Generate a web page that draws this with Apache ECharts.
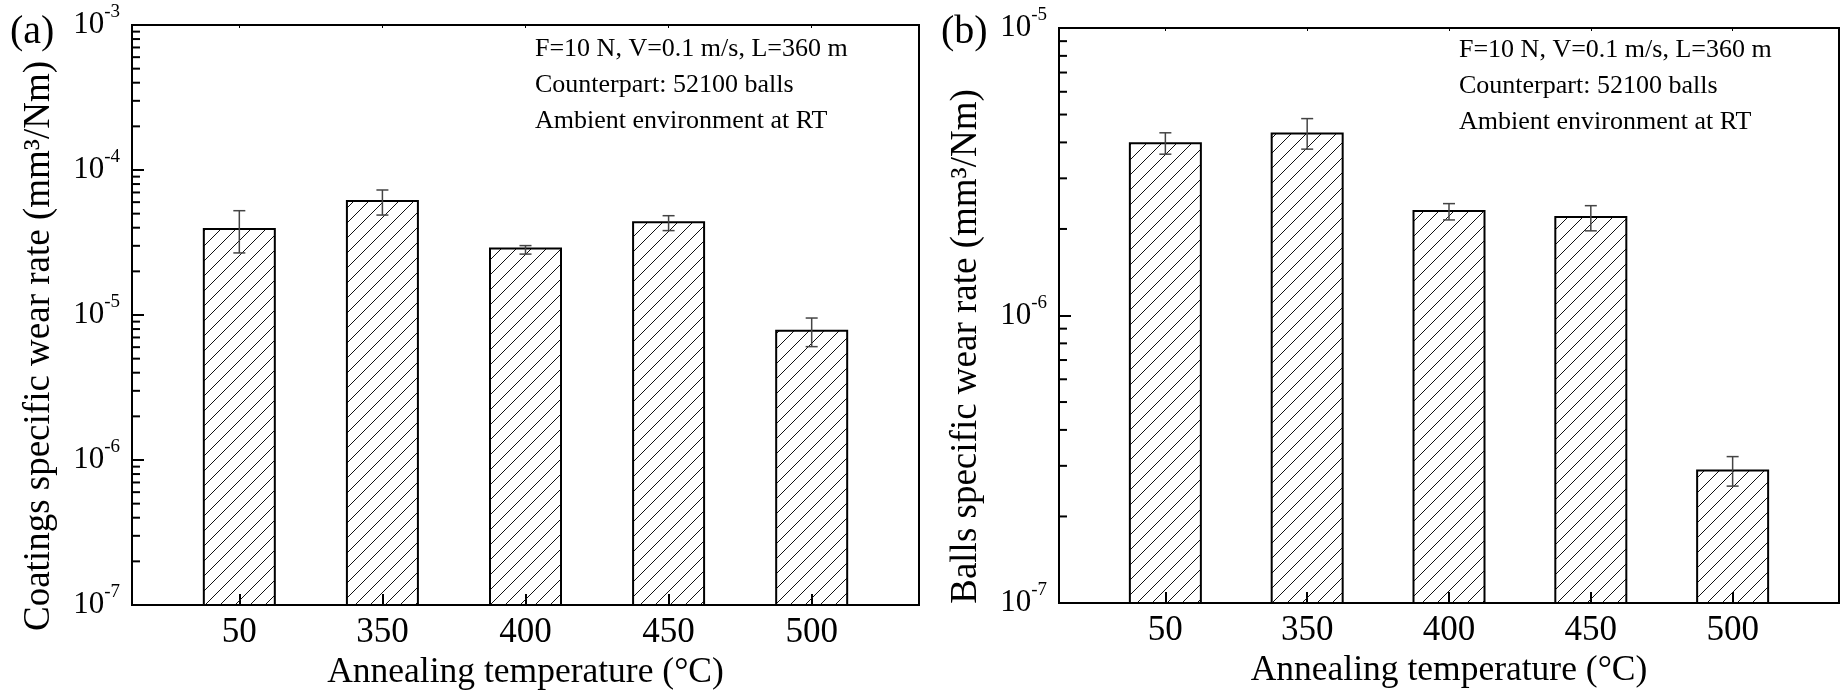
<!DOCTYPE html>
<html>
<head>
<meta charset="utf-8">
<script src="https://cdn.jsdelivr.net/npm/echarts@6/dist/echarts.min.js"></script>
<style>
  html, body { margin: 0; padding: 0; background: #fff; }
  #chart { width: 1841px; height: 690px; }
</style>
</head>
<body>
<div id="chart"></div>
<script>
// annealing temperatures (categories)
var temps = ['50', '350', '400', '450', '500'];

// (a) coatings specific wear rate, mm3/Nm
var coatRate = [3.92e-5, 6.11e-5, 2.88e-5, 4.36e-5, 7.80e-6];
var coatHigh = [5.24e-5, 7.28e-5, 3.01e-5, 4.84e-5, 9.53e-6];
var coatLow  = [2.68e-5, 4.89e-5, 2.63e-5, 3.82e-5, 6.05e-6];

// (b) balls specific wear rate, mm3/Nm
var ballRate = [3.97e-6, 4.30e-6, 2.31e-6, 2.20e-6, 2.89e-7];
var ballHigh = [4.32e-6, 4.84e-6, 2.45e-6, 2.41e-6, 3.23e-7];
var ballLow  = [3.64e-6, 3.79e-6, 2.15e-6, 1.97e-6, 2.55e-7];

// y tick labels (decades)
var coatTicks = [1e-7, 1e-6, 1e-5, 1e-4, 1e-3];
var ballTicks = [1e-7, 1e-6, 1e-5];

var notes = ['F=10 N, V=0.1 m/s, L=360 m', 'Counterpart: 52100 balls', 'Ambient environment at RT'];

var FONT = '"Liberation Serif", "Times New Roman", serif';
var X_MIN = 0.25, X_MAX = 5.75;
var catPos = temps.map(function (t, i) { return i + 1; });

// minor ticks 2..9 inside each decade
function minorTicks(decades) {
  var out = [];
  for (var i = 0; i < decades.length - 1; i++) {
    for (var k = 2; k <= 9; k++) out.push(k * decades[i]);
  }
  return out;
}

// diagonal hatch like the origin fill
function makeHatch() {
  var s = 15;
  var c = document.createElement('canvas');
  c.width = s; c.height = s;
  var g = c.getContext('2d');
  g.strokeStyle = '#111';
  g.lineWidth = 1;
  g.beginPath();
  g.moveTo(0, s); g.lineTo(s, 0);
  g.moveTo(-2, 2); g.lineTo(2, -2);
  g.moveTo(s - 2, s + 2); g.lineTo(s + 2, s - 2);
  g.stroke();
  return c;
}
var hatch = makeHatch();

function powLabel(v) {
  var e = Math.round(Math.log10(v));
  return '{b|10}{s|' + e + '}';
}

function xAxes(gi) {
  return [{
    type: 'value', gridIndex: gi, min: X_MIN, max: X_MAX, position: 'bottom',
    name: 'Annealing temperature (\u00b0C)', nameLocation: 'middle', nameGap: 48,
    nameTextStyle: { fontFamily: FONT, fontSize: 35.5, color: '#000' },
    axisLine: { lineStyle: { color: '#000', width: 2 } },
    axisTick: { inside: true, length: 11, customValues: catPos, lineStyle: { color: '#000', width: 2 } },
    axisLabel: {
      customValues: catPos, margin: 10, fontFamily: FONT, fontSize: 35, color: '#000',
      formatter: function (v) { return temps[Math.round(v) - 1]; }
    },
    splitLine: { show: false }
  }, {
    type: 'value', gridIndex: gi, min: X_MIN, max: X_MAX, position: 'top',
    axisLine: { lineStyle: { color: '#000', width: 2 } },
    axisTick: { inside: true, length: 3, customValues: catPos, lineStyle: { color: '#000', width: 1 } },
    axisLabel: { show: false },
    splitLine: { show: false }
  }];
}

function yAxis(gi, min, max, ticks, name) {
  return {
    type: 'log', logBase: 10, gridIndex: gi, min: min, max: max, position: 'left',
    name: name, nameLocation: 'middle', nameGap: 74,
    nameTextStyle: { fontFamily: FONT, fontSize: 37, color: '#000', padding: [0, 62, 0, 0] },
    axisLine: { lineStyle: { color: '#000', width: 2 } },
    axisTick: { inside: true, length: 12, customValues: ticks, lineStyle: { color: '#000', width: 2 } },
    axisLabel: {
      customValues: ticks, margin: 12, formatter: powLabel,
      rich: {
        b: { fontFamily: FONT, fontSize: 31, color: '#000', lineHeight: 44 },
        s: { fontFamily: FONT, fontSize: 19, color: '#000', lineHeight: 20, verticalAlign: 'top' }
      }
    },
    splitLine: { show: false }
  };
}

function barSeries(xi, yi, vals, yMin) {
  return {
    type: 'custom', xAxisIndex: xi, yAxisIndex: yi,
    data: vals.map(function (v, i) { return [catPos[i], v]; }),
    renderItem: function (params, api) {
      var top = api.coord([api.value(0), api.value(1)]);
      var base = api.coord([api.value(0), yMin]);
      var w = 71;
      return {
        type: 'rect',
        shape: { x: top[0] - w / 2, y: top[1], width: w, height: base[1] - top[1] },
        style: { fill: { image: hatch, repeat: 'repeat' }, stroke: '#000', lineWidth: 2 }
      };
    },
    z: 3
  };
}

function errSeries(xi, yi, lo, hi) {
  return {
    type: 'custom', xAxisIndex: xi, yAxisIndex: yi,
    data: lo.map(function (v, i) { return [catPos[i], v, hi[i]]; }),
    renderItem: function (params, api) {
      var a = api.coord([api.value(0), api.value(1)]);
      var b = api.coord([api.value(0), api.value(2)]);
      var c = 6;
      var st = { stroke: '#444', lineWidth: 1.5 };
      return {
        type: 'group',
        children: [
          { type: 'line', shape: { x1: a[0], y1: a[1], x2: b[0], y2: b[1] }, style: st },
          { type: 'line', shape: { x1: a[0] - c, y1: a[1], x2: a[0] + c, y2: a[1] }, style: st },
          { type: 'line', shape: { x1: b[0] - c, y1: b[1], x2: b[0] + c, y2: b[1] }, style: st }
        ]
      };
    },
    z: 4
  };
}

// short inward minor ticks on the log axis
function minorSeries(xi, yi, ticks) {
  return {
    type: 'custom', xAxisIndex: xi, yAxisIndex: yi, clip: false,
    data: minorTicks(ticks).map(function (v) { return [X_MIN, v]; }),
    renderItem: function (params, api) {
      var p = api.coord([api.value(0), api.value(1)]);
      return {
        type: 'line',
        shape: { x1: p[0], y1: p[1], x2: p[0] + 8, y2: p[1] },
        style: { stroke: '#000', lineWidth: 2 }
      };
    },
    z: 10
  };
}

function noteText(x, y0) {
  return notes.map(function (t, i) {
    return {
      type: 'text', left: x, top: y0 + i * 36,
      style: { text: t, fontFamily: FONT, fontSize: 26, fill: '#000' }
    };
  });
}

var chart = echarts.init(document.getElementById('chart'));
chart.setOption({
  backgroundColor: '#fff',
  animation: false,
  grid: [
    { left: 132, top: 25, width: 787, height: 580, outerBoundsMode: 'none', show: true, borderColor: '#000', borderWidth: 2 },
    { left: 1059, top: 28, width: 780, height: 575, outerBoundsMode: 'none', show: true, borderColor: '#000', borderWidth: 2 }
  ],
  xAxis: xAxes(0).concat(xAxes(1)),
  yAxis: [
    yAxis(0, 1e-7, 1e-3, coatTicks, 'Coatings specific wear rate (mm\u00b3/Nm)'),
    yAxis(1, 1e-7, 1e-5, ballTicks, 'Balls specific wear rate (mm\u00b3/Nm)')
  ],
  series: [
    barSeries(0, 0, coatRate, 1e-7),
    errSeries(0, 0, coatLow, coatHigh),
    minorSeries(0, 0, coatTicks),
    barSeries(2, 1, ballRate, 1e-7),
    errSeries(2, 1, ballLow, ballHigh),
    minorSeries(2, 1, ballTicks)
  ],
  graphic: [
    { type: 'text', left: 10, top: 12, style: { text: '(a)', fontFamily: FONT, fontSize: 40, fill: '#000' } },
    { type: 'text', left: 941, top: 12, style: { text: '(b)', fontFamily: FONT, fontSize: 40, fill: '#000' } }
  ].concat(noteText(535, 36)).concat(noteText(1459, 37))
});
</script>
</body>
</html>
